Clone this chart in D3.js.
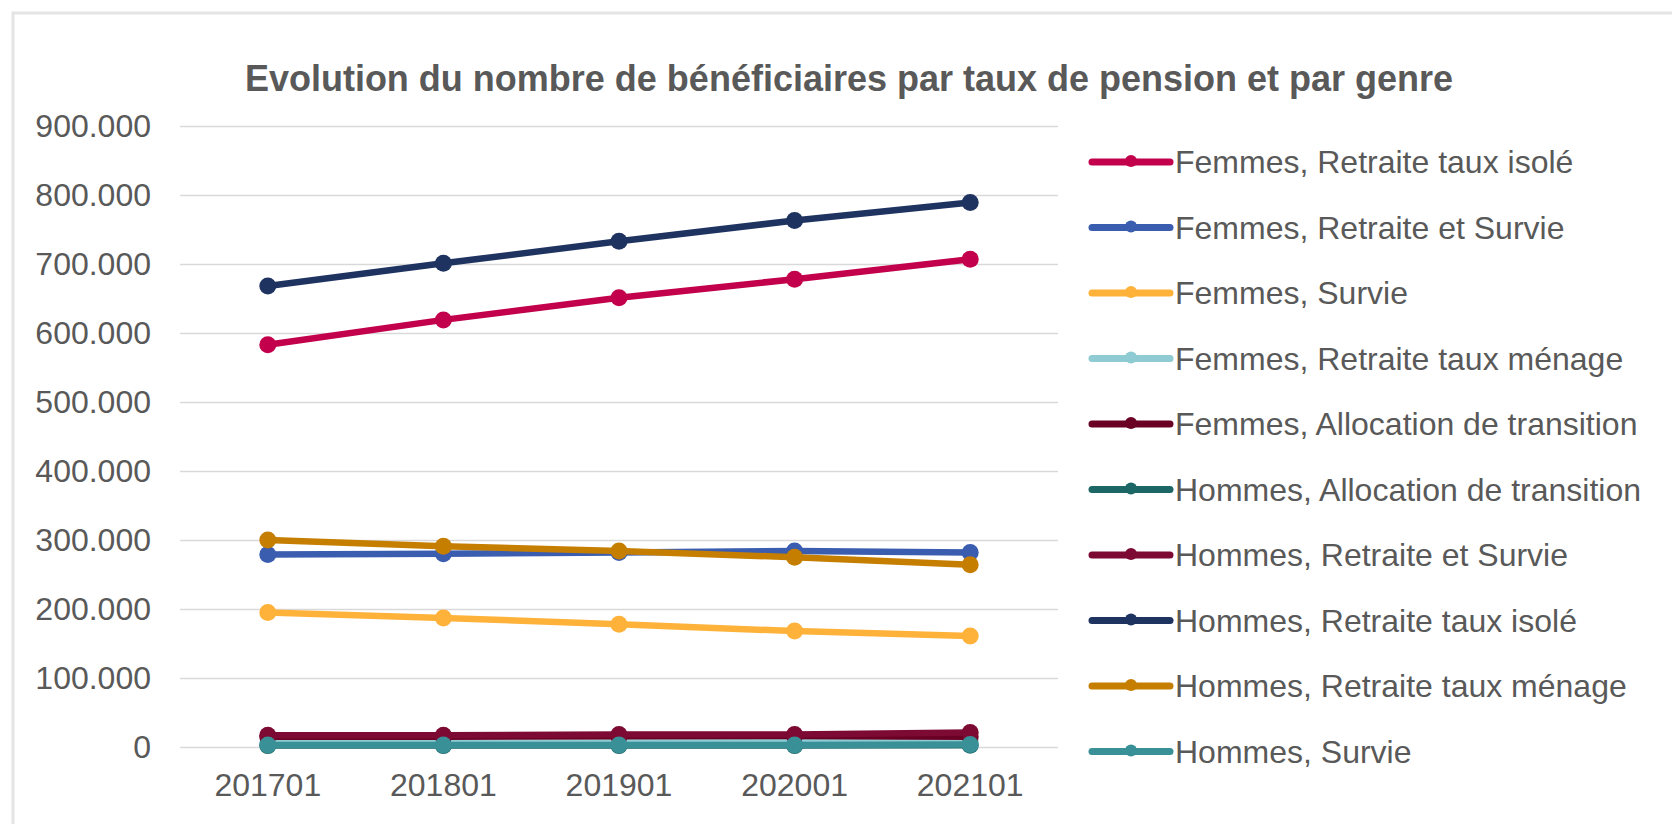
<!DOCTYPE html>
<html>
<head>
<meta charset="utf-8">
<script src="https://cdn.jsdelivr.net/npm/d3@7"></script>
<style>
  html, body { margin: 0; padding: 0; background: #fff; }
  #chart { width: 1672px; height: 824px; }
  text { font-family: "Liberation Sans", Arial, sans-serif; fill: #595959; }
</style>
</head>
<body>
<div id="chart"></div>
<script>
// periods on the x axis
const periods = ["201701", "201801", "201901", "202001", "202101"];

// values per series (number of beneficiaries)
const femmesRetraiteIsole = [583000, 619000, 651000, 678000, 707000];
const femmesRetraiteSurvie = [279000, 280000, 282000, 284000, 282000];
const femmesSurvie = [195000, 187000, 178000, 168000, 161000];
const femmesRetraiteMenage = [6000, 6000, 6500, 7000, 8000];
const femmesAllocTransition = [15000, 15000, 15500, 16000, 15000];
const hommesAllocTransition = [2000, 2000, 2000, 2000, 2500];
const hommesRetraiteSurvie = [17000, 17000, 18000, 18000, 21000];
const hommesRetraiteIsole = [668000, 701000, 733000, 763000, 789000];
const hommesRetraiteMenage = [300000, 291000, 284000, 275000, 264000];
const hommesSurvie = [3000, 3000, 3000, 3000, 3500];

const seriesNames = [
  "Femmes, Retraite taux isolé",
  "Femmes, Retraite et Survie",
  "Femmes, Survie",
  "Femmes, Retraite taux ménage",
  "Femmes, Allocation de transition",
  "Hommes, Allocation de transition",
  "Hommes, Retraite et Survie",
  "Hommes, Retraite taux isolé",
  "Hommes, Retraite taux ménage",
  "Hommes, Survie"
];
const seriesColors = [
  "#c2004b", "#3a5daf", "#ffb23a", "#8ecbd2", "#6a0024",
  "#1d6666", "#7c0a33", "#1f3360", "#c67e00", "#3a9097"
];
const yTicks = [0, 100000, 200000, 300000, 400000, 500000, 600000, 700000, 800000, 900000];

const series = [
  femmesRetraiteIsole, femmesRetraiteSurvie, femmesSurvie, femmesRetraiteMenage,
  femmesAllocTransition, hommesAllocTransition, hommesRetraiteSurvie,
  hommesRetraiteIsole, hommesRetraiteMenage, hommesSurvie
].map((values, i) => ({ name: seriesNames[i], color: seriesColors[i], values }));

const W = 1672, H = 824;
const margin = { top: 126, right: 614, bottom: 77, left: 180 };

const svg = d3.select("#chart").append("svg")
  .attr("width", W)
  .attr("height", H);

// outer frame (only top/left visible, like the cropped screenshot)
svg.append("rect")
  .attr("x", 13).attr("y", 13)
  .attr("width", W).attr("height", H)
  .attr("fill", "none")
  .attr("stroke", "#e4e4e4")
  .attr("stroke-width", 3);

svg.append("text")
  .attr("x", 849).attr("y", 78)
  .attr("text-anchor", "middle")
  .attr("dy", "0.35em")
  .style("font-size", "36px")
  .style("font-weight", "bold")
  .text("Evolution du nombre de bénéficiaires par taux de pension et par genre");

const x = d3.scaleBand()
  .domain(periods)
  .range([margin.left, W - margin.right]);

const y = d3.scaleLinear()
  .domain([0, 900000])
  .range([H - margin.bottom, margin.top]);

const locale = d3.formatLocale({ decimal: ",", thousands: ".", grouping: [3], currency: ["", "€"] });
const fmt = locale.format(",d");

// grid
svg.append("g")
  .attr("transform", `translate(${margin.left},0)`)
  .call(d3.axisLeft(y).tickValues(yTicks).tickSize(-(W - margin.right - margin.left)).tickFormat(""))
  .call(g => g.select(".domain").remove())
  .selectAll("line")
  .attr("stroke", "#d9d9d9")
  .attr("stroke-width", 1.5);

// y labels
svg.append("g")
  .attr("transform", `translate(${margin.left - 29},0)`)
  .call(d3.axisLeft(y).tickValues(yTicks).tickSize(0).tickFormat(fmt))
  .call(g => g.select(".domain").remove())
  .selectAll("text")
  .attr("x", 0)
  .style("font-size", "32px")
  .style("font-family", "'Liberation Sans', Arial, sans-serif")
  .attr("fill", "#595959");

// x labels
svg.append("g")
  .attr("transform", `translate(0,${H - margin.bottom})`)
  .call(d3.axisBottom(x).tickSize(0))
  .call(g => g.select(".domain").remove())
  .selectAll("text")
  .attr("y", 26)
  .style("font-size", "32px")
  .style("font-family", "'Liberation Sans', Arial, sans-serif")
  .attr("fill", "#595959");

const line = d3.line()
  .x((d, i) => x(periods[i]) + x.bandwidth() / 2)
  .y(d => y(d));

const lines = svg.append("g")
  .selectAll("g")
  .data(series)
  .enter().append("g");

lines.append("path")
  .attr("d", d => line(d.values))
  .attr("fill", "none")
  .attr("stroke", d => d.color)
  .attr("stroke-width", 6.5)
  .attr("stroke-linejoin", "round")
  .attr("stroke-linecap", "round");

lines.selectAll("circle")
  .data(d => d.values.map((v, i) => ({ v, i, color: d.color })))
  .enter().append("circle")
  .attr("cx", d => x(periods[d.i]) + x.bandwidth() / 2)
  .attr("cy", d => y(d.v))
  .attr("r", 8.5)
  .attr("fill", d => d.color);

// legend
const legend = svg.append("g")
  .selectAll("g")
  .data(series)
  .enter().append("g")
  .attr("transform", (d, i) => `translate(1092,${162 + i * 65.5})`);

legend.append("line")
  .attr("x1", 0).attr("x2", 78)
  .attr("stroke", d => d.color)
  .attr("stroke-width", 7)
  .attr("stroke-linecap", "round");

legend.append("circle")
  .attr("cx", 39).attr("cy", -1)
  .attr("r", 6)
  .attr("fill", d => d.color);

legend.append("text")
  .attr("x", 83)
  .attr("dy", "0.35em")
  .style("font-size", "32px")
  .text(d => d.name);
</script>
</body>
</html>
